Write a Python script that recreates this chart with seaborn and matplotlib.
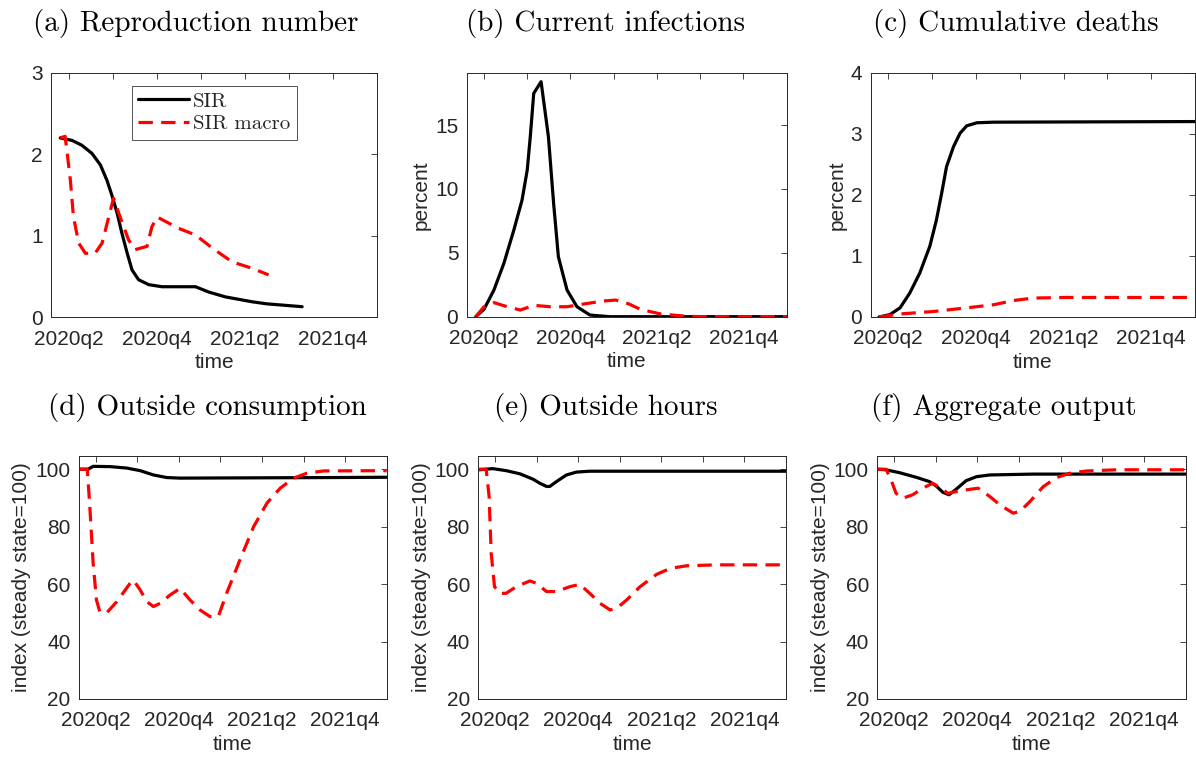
import numpy as np
import pandas as pd
import matplotlib
matplotlib.use("Agg")
import matplotlib.pyplot as plt
import seaborn as sns

# ---------------- data (x in quarters, 0 = 2020q2) ----------------
quarter_ticks = [0, 1, 2, 3, 4, 5, 6, 7]
quarter_labels = ["2020q2", "", "2020q4", "", "2021q2", "", "2021q4", ""]

# (a) Reproduction number
a_sir_x = [-0.19, 0.075, 0.30, 0.53, 0.72, 0.87, 0.98, 1.10, 1.21, 1.33, 1.44, 1.59, 1.82, 2.12, 2.88, 3.18, 3.56, 4.17, 4.50, 4.96, 5.30]
a_sir_y = [2.20, 2.17, 2.11, 2.01, 1.87, 1.68, 1.50, 1.28, 1.03, 0.785, 0.58, 0.46, 0.40, 0.375, 0.375, 0.31, 0.25, 0.19, 0.165, 0.145, 0.13]
a_mac_x = [-0.19, -0.08, -0.04, 0.04, 0.11, 0.23, 0.38, 0.60, 0.76, 0.91, 1.02, 1.17, 1.36, 1.51, 1.78, 1.89, 2.01, 2.50, 2.88, 3.26, 3.71, 4.17, 4.54]
a_mac_y = [2.20, 2.22, 2.05, 1.68, 1.23, 0.91, 0.785, 0.785, 0.91, 1.23, 1.46, 1.23, 0.95, 0.83, 0.87, 1.11, 1.23, 1.09, 1.01, 0.85, 0.68, 0.60, 0.52]

# (b) Current infections
b_sir_x = [-0.19, 0.0, 0.23, 0.46, 0.69, 0.88, 1.00, 1.07, 1.15, 1.32, 1.49, 1.61, 1.72, 1.92, 2.15, 2.45, 2.91, 7.0]
b_sir_y = [0.0, 0.58, 2.09, 4.18, 6.78, 9.13, 11.48, 14.08, 17.48, 18.39, 14.08, 8.87, 4.69, 2.09, 0.78, 0.13, 0.0, 0.0]
b_mac_x = [-0.19, 0.0, 0.23, 0.54, 0.84, 1.15, 1.53, 1.92, 2.30, 2.76, 3.05, 3.35, 3.62, 4.09, 4.63, 5.0, 7.0]
b_mac_y = [0.0, 0.78, 1.10, 0.78, 0.52, 0.89, 0.78, 0.78, 0.99, 1.23, 1.30, 1.00, 0.57, 0.21, 0.05, 0.0, 0.0]

# (c) Cumulative deaths
c_sir_x = [-0.21, 0.04, 0.27, 0.49, 0.72, 0.95, 1.10, 1.22, 1.33, 1.49, 1.64, 1.79, 2.02, 2.40, 7.0]
c_sir_y = [0.0, 0.04, 0.15, 0.39, 0.72, 1.16, 1.59, 2.03, 2.46, 2.79, 3.01, 3.13, 3.18, 3.19, 3.20]
c_mac_x = [-0.21, 0.27, 1.03, 1.79, 2.40, 2.86, 3.31, 4.07, 7.0]
c_mac_y = [0.0, 0.05, 0.09, 0.15, 0.20, 0.27, 0.31, 0.32, 0.32]

# (d) Outside consumption
d_sir_x = [-0.38, -0.18, -0.06, 0.35, 0.75, 1.07, 1.39, 1.71, 2.03, 5.72, 7.0]
d_sir_y = [100.0, 100.0, 101.0, 100.9, 100.4, 99.5, 98.0, 97.1, 96.9, 97.1, 97.2]
d_mac_x = [-0.38, -0.20, -0.14, -0.06, 0.02, 0.10, 0.26, 0.51, 0.83, 0.91, 1.07, 1.23, 1.39, 1.55, 1.79, 2.03, 2.27, 2.51, 2.75, 2.95, 3.15, 3.47, 3.80, 4.12, 4.44, 4.76, 5.08, 5.48, 7.0]
d_mac_y = [100.0, 100.0, 87.0, 67.3, 54.5, 50.4, 49.9, 53.9, 60.3, 61.4, 58.0, 53.9, 52.2, 53.3, 56.2, 58.5, 54.5, 51.0, 48.7, 48.7, 56.8, 68.4, 80.0, 88.2, 93.4, 96.9, 98.6, 99.4, 99.5]

# (e) Outside hours
e_sir_x = [-0.39, -0.21, -0.05, 0.27, 0.60, 0.92, 1.08, 1.24, 1.32, 1.48, 1.72, 1.96, 2.28, 7.0]
e_sir_y = [99.8, 100.0, 100.2, 99.5, 98.4, 96.5, 95.1, 94.0, 94.0, 95.7, 98.0, 99.0, 99.3, 99.3]
e_mac_x = [-0.39, -0.21, -0.14, -0.09, -0.01, 0.11, 0.27, 0.51, 0.84, 1.00, 1.24, 1.48, 1.80, 2.04, 2.28, 2.53, 2.77, 2.93, 3.17, 3.49, 3.89, 4.22, 4.62, 5.34, 7.0]
e_mac_y = [100.0, 100.0, 90.5, 70.7, 59.1, 56.8, 56.8, 59.1, 61.1, 60.3, 57.4, 57.4, 59.1, 59.9, 56.8, 53.3, 51.0, 51.6, 54.5, 59.1, 63.4, 65.5, 66.4, 66.7, 66.7]

# (f) Aggregate output
f_sir_x = [-0.40, -0.19, 0.13, 0.53, 0.85, 1.01, 1.17, 1.32, 1.49, 1.73, 1.98, 2.30, 3.34, 7.0]
f_sir_y = [100.0, 99.8, 98.8, 97.2, 95.7, 94.2, 92.0, 91.1, 93.0, 96.0, 97.4, 98.0, 98.3, 98.3]
f_mac_x = [-0.40, -0.19, -0.07, 0.05, 0.21, 0.45, 0.69, 0.93, 1.13, 1.29, 1.49, 1.73, 2.02, 2.30, 2.54, 2.86, 3.02, 3.26, 3.58, 3.90, 4.22, 4.63, 5.35, 7.0]
f_mac_y = [100.0, 100.0, 96.3, 91.6, 89.9, 91.1, 93.4, 95.1, 93.4, 91.6, 92.2, 92.8, 93.4, 90.5, 87.6, 84.7, 85.3, 88.7, 93.9, 97.1, 98.6, 99.4, 99.8, 99.8]

titles = ["(a) Reproduction number", "(b) Current infections", "(c) Cumulative deaths",
          "(d) Outside consumption", "(e) Outside hours", "(f) Aggregate output"]
ylabels = ["", "percent", "percent",
           "index (steady state=100)", "index (steady state=100)", "index (steady state=100)"]
series_names = ["SIR", "SIR macro"]

# ---------------- style ----------------
sns.set_theme(style="white")
plt.rcParams["font.family"] = ["Liberation Sans", "DejaVu Sans"]
AX_COL = "#262626"

fig = plt.figure(figsize=(11.96, 7.6), dpi=100)
W, H = 1196.0, 760.0

# axes boxes in pixels: left, top, right, bottom
boxes = [(51, 72.7, 377, 317.3), (466.7, 73.3, 786.7, 316.7), (870.7, 72.7, 1195, 317),
         (79, 456, 386.7, 699), (478.3, 456, 786, 699), (877.3, 456, 1185.7, 699)]
title_pos = [(196, 23), (606, 23), (1016, 23), (207, 407), (606, 407), (1004, 407)]
ylims = [(0, 3), (0, 19.05), (0, 4), (20, 104.6), (20, 104.6), (20, 104.6)]
yticks = [[0, 1, 2, 3], [0, 5, 10, 15], [0, 1, 2, 3, 4],
          [20, 40, 60, 80, 100], [20, 40, 60, 80, 100], [20, 40, 60, 80, 100]]

data = [(a_sir_x, a_sir_y, a_mac_x, a_mac_y), (b_sir_x, b_sir_y, b_mac_x, b_mac_y),
        (c_sir_x, c_sir_y, c_mac_x, c_mac_y), (d_sir_x, d_sir_y, d_mac_x, d_mac_y),
        (e_sir_x, e_sir_y, e_mac_x, e_mac_y), (f_sir_x, f_sir_y, f_mac_x, f_mac_y)]

for i in range(6):
    l, t, r, b = boxes[i]
    ax = fig.add_axes([l / W, 1 - b / H, (r - l) / W, (b - t) / H])
    sx, sy, mx, my = data[i]
    sns.lineplot(x=sx, y=sy, ax=ax, color="black", linewidth=2.3, label=series_names[0],
                 legend=False, sort=False)
    sns.lineplot(x=mx, y=my, ax=ax, color="#ff0000", linewidth=2.3, label=series_names[1],
                 legend=False, sort=False, dashes=False)
    ax.lines[1].set_dashes((4.5, 2.6))
    ax.set_xlim(-0.40, 7.0)
    ax.set_ylim(*ylims[i])
    ax.set_xticks(quarter_ticks)
    ax.set_xticklabels(quarter_labels)
    ax.set_yticks(yticks[i])
    ax.tick_params(direction="in", top=True, right=True, length=4, width=0.6,
                   colors=AX_COL, labelsize=15)
    ax.tick_params(axis="x", pad=9)
    ax.tick_params(axis="y", pad=6)
    for sp in ax.spines.values():
        sp.set_visible(True)
        sp.set_color(AX_COL)
        sp.set_linewidth(0.7)
    ax.set_xlabel("time", fontsize=15, color=AX_COL, labelpad=3)
    if ylabels[i]:
        ax.set_ylabel(ylabels[i], fontsize=15, color=AX_COL, labelpad=3)
    ax.grid(False)
    tx, ty = title_pos[i]
    fig.text(tx / W, 1 - ty / H, titles[i], ha="center", va="center",
             fontsize=21, family="cmr10", color="black")
    if i == 0:
        leg = ax.legend(loc="upper left", bbox_to_anchor=(0.248, 0.946), borderaxespad=0,
                        frameon=True, fancybox=False, handlelength=2.45, handletextpad=0.2,
                        borderpad=0.3, labelspacing=0.2,
                        prop={"family": "cmr10", "size": 15})
        leg.get_frame().set_edgecolor(AX_COL)
        leg.get_frame().set_linewidth(0.7)

fig.savefig("out.png", dpi=100)
